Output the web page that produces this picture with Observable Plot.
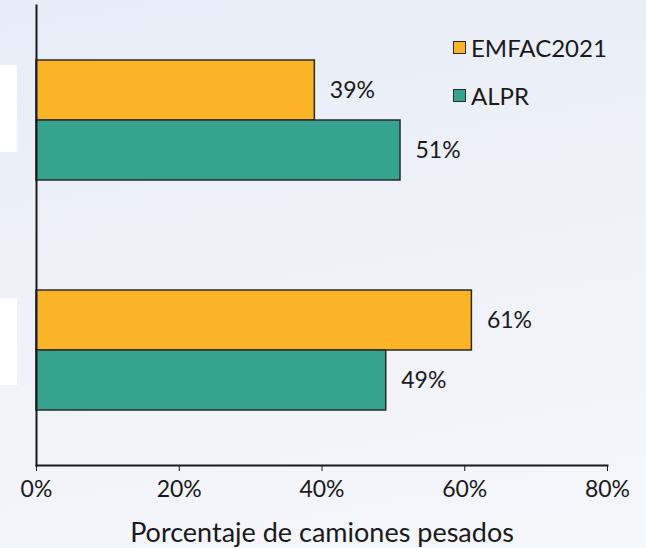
<!DOCTYPE html>
<html><head><meta charset="utf-8">
<script src="https://cdn.jsdelivr.net/npm/d3@7"></script>
<script src="https://cdn.jsdelivr.net/npm/@observablehq/plot@0.6"></script>
<style>
html,body{margin:0;padding:0;}
body{width:646px;height:548px;overflow:hidden;background:linear-gradient(170deg,#e7ecf6 0%,#eef1f8 45%,#f6f7fb 100%);font-family:Lato,"Open Sans",sans-serif;position:relative;}
#chart{position:absolute;left:0;top:0;}
.wbox{position:absolute;left:0;width:17px;height:87px;background:#fff;}
#legend{position:absolute;left:453px;top:23px;font-size:24px;color:#1a1a1a;}
#legend div{display:flex;align-items:center;height:48px;}
#legend span.sw{display:inline-block;width:11px;height:11px;border:1.5px solid #2b2b2b;margin-right:5px;}
</style></head>
<body>
<div id="chart"></div>
<div class="wbox" style="top:65px"></div>
<div class="wbox" style="top:298px"></div>
<div id="legend"></div>
<script>
const categories = ["Categoría A", "Categoría B"];
const series = ["EMFAC2021", "ALPR"];
const emfac = [39, 61];
const alpr = [51, 49];
const xTicks = [0, 20, 40, 60, 80];
const colors = ["#fbb428", "#36a38f"];

const rowsE = categories.map((c, i) => ({cat: c, v: emfac[i]}));
const rowsA = categories.map((c, i) => ({cat: c, v: alpr[i]}));

const chart = Plot.plot({
  width: 646, height: 548,
  marginLeft: 36, marginRight: 39, marginTop: 5, marginBottom: 83,
  style: {background: "transparent", fontFamily: "Lato, 'Open Sans', sans-serif", color: "#1a1a1a"},
  x: {domain: [0, 80], ticks: xTicks},
  y: {domain: categories, paddingInner: 110/230, paddingOuter: 55/230, axis: null},
  marks: [
    Plot.barX(rowsE, {x: "v", y: "cat", fill: colors[0], stroke: "#2b2b2b", strokeWidth: 1.5, insetBottom: 60}),
    Plot.barX(rowsA, {x: "v", y: "cat", fill: colors[1], stroke: "#2b2b2b", strokeWidth: 1.5, insetTop: 60}),
    Plot.text(rowsE, {x: "v", y: "cat", text: d => d.v + "%", dy: -30, dx: 15, textAnchor: "start", fontSize: 23, fill: "#1a1a1a"}),
    Plot.text(rowsA, {x: "v", y: "cat", text: d => d.v + "%", dy: 30, dx: 15, textAnchor: "start", fontSize: 23, fill: "#1a1a1a"}),
    Plot.frame({anchor: "left", stroke: "#1a1a1a", strokeWidth: 2}),
    Plot.frame({anchor: "bottom", stroke: "#1a1a1a", strokeWidth: 2}),
    Plot.axisX({ticks: xTicks, tickFormat: d => d + "%", tickSize: 6, tickPadding: 9, fontSize: 23,
      label: "Porcentaje de camiones pesados", labelAnchor: "center", labelArrow: "none", labelOffset: 76})
  ]
});
chart.querySelectorAll("g[aria-label='x-axis label'] text").forEach(t => t.setAttribute("font-size", 27));
document.getElementById("chart").appendChild(chart);

const lg = document.getElementById("legend");
series.forEach((s, i) => {
  const d = document.createElement("div");
  d.innerHTML = `<span class="sw" style="background:${colors[i]}"></span>${s}`;
  lg.appendChild(d);
});
</script>
</body></html>
